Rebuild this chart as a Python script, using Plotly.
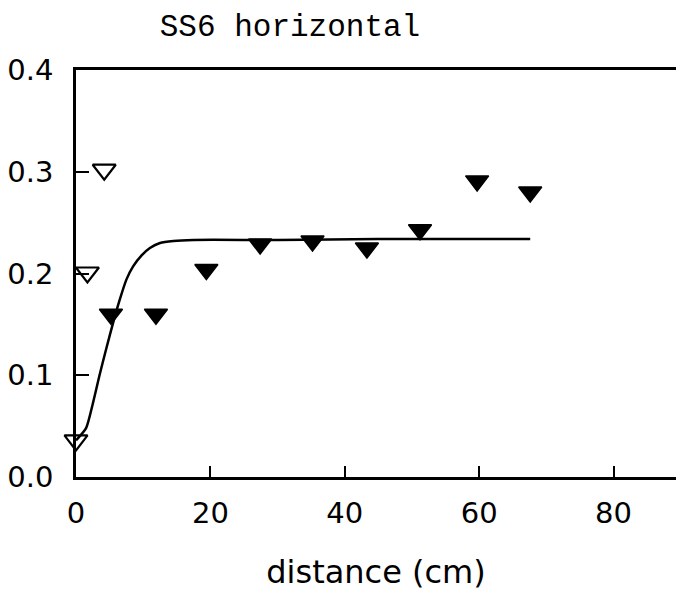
import plotly.graph_objects as go

# Open symbols (near origin)
open_x = [0.0, 1.7, 4.2]
open_y = [0.036, 0.201, 0.302]

# Filled symbols
filled_x = [5.2, 11.9, 19.4, 27.4, 35.2, 43.3, 51.2, 59.7, 67.6]
filled_y = [0.160, 0.160, 0.204, 0.229, 0.232, 0.225, 0.243, 0.291, 0.280]

# Fitted curve
curve_x = [0.0, 1.5, 2.5, 3.5, 4.5, 5.5, 6.5, 7.5, 8.5, 9.8, 11.0, 12.5, 14.5, 17.5, 30.0, 45.0, 67.6]
curve_y = [0.036, 0.048, 0.072, 0.100, 0.126, 0.151, 0.174, 0.194, 0.207, 0.218, 0.225, 0.230, 0.232, 0.233, 0.233, 0.234, 0.234]

x_ticks = [0, 20, 40, 60, 80]
y_ticks = [0.0, 0.1, 0.2, 0.3, 0.4]

fig = go.Figure()
fig.add_trace(go.Scatter(x=curve_x, y=curve_y, mode="lines",
                         line=dict(color="black", width=2.5, shape="spline", smoothing=0.6),
                         hoverinfo="skip", cliponaxis=False))
fig.add_trace(go.Scatter(x=open_x, y=open_y, mode="markers",
                         marker=dict(symbol="triangle-down-open", size=20, color="black",
                                     line=dict(width=2.2, color="black")),
                         cliponaxis=False))
fig.add_trace(go.Scatter(x=filled_x, y=filled_y, mode="markers",
                         marker=dict(symbol="triangle-down", size=20, color="black",
                                     line=dict(width=1.5, color="black")),
                         cliponaxis=False))

fig.update_layout(
    width=676, height=592,
    margin=dict(l=76, r=0, t=70, b=115),
    paper_bgcolor="white", plot_bgcolor="white",
    showlegend=False,
    font=dict(family="DejaVu Sans", color="black", size=29),
    title=dict(text="SS6 horizontal", x=290/676, xref="container", xanchor="center",
               y=1-25/592, yref="container", yanchor="middle",
               font=dict(family="Liberation Mono", size=31, color="black")),
    xaxis=dict(range=[0, 89.3], tickvals=x_ticks, ticktext=[str(v) for v in x_ticks],
               ticks="inside", ticklen=11, tickwidth=1.5, tickcolor="black",
               showline=True, linecolor="black", linewidth=2.5, mirror=True,
               showgrid=False, zeroline=False,
               tickfont=dict(size=29), ticklabelstandoff=8,
               title=dict(text="distance (cm)", font=dict(size=32), standoff=33)),
    yaxis=dict(range=[0, 0.4], tickvals=y_ticks, ticktext=["%.1f" % v for v in y_ticks],
               ticks="inside", ticklen=13, tickwidth=1.5, tickcolor="black",
               showline=True, linecolor="black", linewidth=2.5, mirror=False,
               showgrid=False, zeroline=False,
               tickfont=dict(size=29), ticklabelstandoff=14),
)

fig.write_html("out.html")
